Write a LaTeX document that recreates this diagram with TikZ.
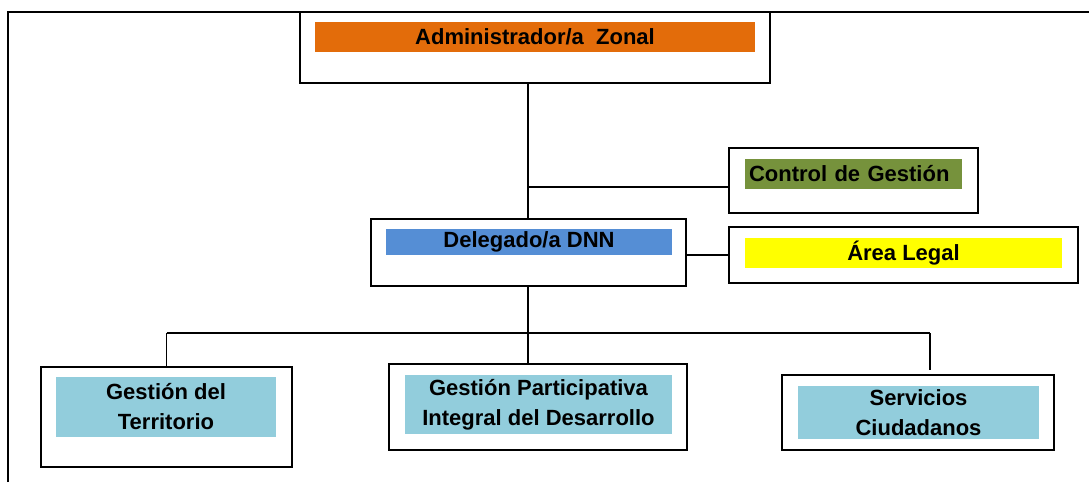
\documentclass[tikz,border=0pt]{standalone}
\usepackage{fontspec}
\setmainfont{Liberation Sans}
\usepackage{tikz}
\usetikzlibrary{calc,positioning}
\usepackage{xcolor}
\definecolor{naranja}{RGB}{227,108,10}
\definecolor{oliva}{RGB}{118,146,60}
\definecolor{azul}{RGB}{85,142,213}
\definecolor{amarillo}{RGB}{255,255,0}
\definecolor{celeste}{RGB}{146,205,220}
\tikzset{
	caja/.style={draw, line width=1.8pt, rectangle, inner sep=0pt},
	barra/.style={rectangle, inner xsep=4pt, inner ysep=2pt, align=center,
		font=\fontsize{22}{30}\selectfont\bfseries},
	linea/.style={line width=1.4pt}
}

\begin{document}
\begin{tikzpicture}[x=1pt, y=-1pt]
				\useasboundingbox (0,0) rectangle (1089,482);
				% marco exterior
				\draw[line width=2pt] (8,482) |- (1089,12);
				% cajas
				\node[caja, minimum width=470pt, minimum height=71pt] (adm) at (535,47.5) {};
				\node[caja, minimum width=249pt, minimum height=65pt] (ctrl) at (853.5,180.5) {};
				\node[caja, minimum width=349pt, minimum height=56pt] (legal) at (903.5,255) {};
				\node[caja, minimum width=315pt, minimum height=67pt] (del) at (528.5,252.5) {};
				\node[caja, minimum width=251pt, minimum height=100pt] (terr) at (166.5,417) {};
				\node[caja, minimum width=298pt, minimum height=86pt] (part) at (538,407) {};
				\node[caja, minimum width=272pt, minimum height=75pt] (serv) at (918,412.5) {};
				% barras de color con texto
				\node[barra, fill=naranja, minimum width=440pt, minimum height=30pt] (admT) at (535,37) {Administrador/a\ \ Zonal};
				\node[barra, fill=oliva, text width=209pt, align=left, minimum height=30pt] (ctrlT) at (853.5,174) {Control de Gestión};
				\node[barra, fill=amarillo, minimum width=317pt, minimum height=30pt] (legalT) at (903.5,253) {Área Legal};
				\node[barra, fill=azul, minimum width=286pt, minimum height=26pt] (delT) at (529,242) {Delegado/a DNN};
				\node[barra, fill=celeste, minimum width=220pt, minimum height=60pt] (terrT) at (166,407) {Gestión del\\Territorio};
				\node[barra, fill=celeste, minimum width=267pt, minimum height=59pt] (partT) at (538.5,404.5) {Gestión Participativa\\Integral del Desarrollo};
				\node[barra, fill=celeste, minimum width=241pt, minimum height=53pt] (servT) at (918.5,412.5) {Servicios\\Ciudadanos};
				% conectores
				\coordinate (jc) at (528,187);
				\coordinate (bus) at (528,333);
				\coordinate (sdrop) at (930,333);
				\draw[linea] (adm.south -| jc) -- (del.north -| jc);
				\draw[linea] (jc) -- (jc -| ctrl.west);
				\draw[linea] (legal.west -| del.east) -- (legal.west);
				\draw[linea] (del.south -| bus) -- (bus);
				\draw[linea] (bus -| terr.north) -- (sdrop);
				\draw[linea] (bus -| terr.north) -- (terr.north);
				\draw[linea] (bus) -- (bus |- part.north);
				\draw[linea] (sdrop) -- ($(sdrop |- serv.north)+(0,-4)$);
			\end{tikzpicture}
\end{document}
